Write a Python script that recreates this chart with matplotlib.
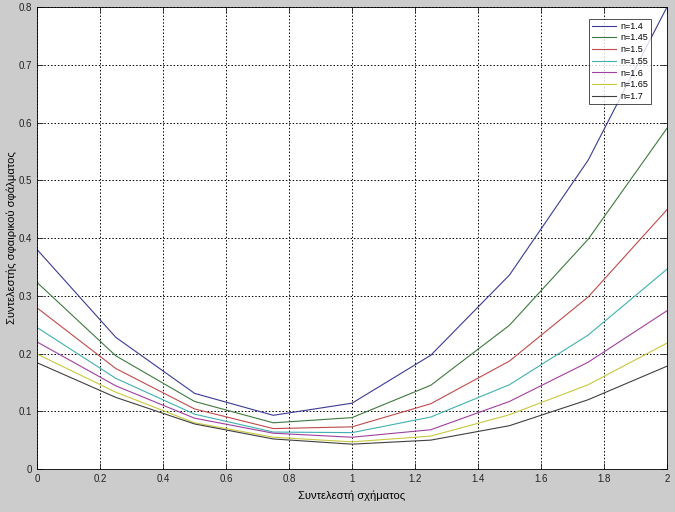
import numpy as np
import matplotlib
matplotlib.use("Agg")
import matplotlib.pyplot as plt

# shape coefficient (x) values
x = [0, 0.25, 0.5, 0.75, 1.0, 1.25, 1.5, 1.75, 2.0]

# spherical aberration coefficient for each refractive index
n_labels = ['n=1.4', 'n=1.45', 'n=1.5', 'n=1.55', 'n=1.6', 'n=1.65', 'n=1.7']
y_14 = [0.380, 0.228, 0.131, 0.093, 0.114, 0.197, 0.336, 0.535, 0.800]
y_145 = [0.323, 0.196, 0.117, 0.080, 0.089, 0.145, 0.249, 0.398, 0.590]
y_15 = [0.279, 0.174, 0.104, 0.070, 0.073, 0.113, 0.187, 0.298, 0.449]
y_155 = [0.245, 0.157, 0.095, 0.064, 0.063, 0.090, 0.146, 0.232, 0.346]
y_16 = [0.220, 0.144, 0.088, 0.062, 0.055, 0.068, 0.117, 0.185, 0.274]
y_165 = [0.199, 0.133, 0.080, 0.055, 0.047, 0.057, 0.094, 0.146, 0.218]
y_17 = [0.184, 0.124, 0.078, 0.052, 0.043, 0.050, 0.075, 0.120, 0.178]
series = [y_14, y_145, y_15, y_155, y_16, y_165, y_17]

# muted versions of the old matlab color order
colors = ['#3a3a95', '#3d7a3d', '#c04a4a', '#40b0b0', '#a040a0', '#c8c840', '#404040']

plt.rcParams['font.family'] = ['Liberation Sans', 'DejaVu Sans']

fig = plt.figure(figsize=(6.75, 5.12), dpi=100, facecolor='#cccccc')
ax = fig.add_axes([0.055, 0.084, 0.933, 0.902])

for ys, c, lab in zip(series, colors, n_labels):
    ax.plot(x, ys, color=c, linewidth=0.8, label=lab)

ax.set_xlim(0, 2)
ax.set_ylim(0, 0.8)
ax.set_xticks(np.arange(0, 2.01, 0.2))
ax.set_xticklabels(['0', '0.2', '0.4', '0.6', '0.8', '1', '1.2', '1.4', '1.6', '1.8', '2'])
ax.set_yticks(np.arange(0, 0.81, 0.1))
ax.set_yticklabels(['0', '0.1', '0.2', '0.3', '0.4', '0.5', '0.6', '0.7', '0.8'])
ax.tick_params(direction='in', labelsize=7, length=4, width=0.6, colors='#222222',
               top=True, right=True)
ax.grid(True, linestyle=(0, (1.5, 2)), color='black', linewidth=0.7)
for s in ax.spines.values():
    s.set_linewidth(0.6)

ax.set_xlabel('Συντελεστή σχήματος', fontsize=8, labelpad=5)
ax.set_ylabel('Συντελεστής σφαιρικού σφάλματος', fontsize=8, labelpad=1)

leg = ax.legend(loc='upper right', fontsize=6.5, handlelength=2.6, frameon=True,
                fancybox=False, edgecolor='black', borderpad=0.35, labelspacing=0.3,
                handletextpad=0.5, bbox_to_anchor=(0.982, 0.985))
leg.get_frame().set_linewidth(0.6)

fig.savefig('out.png', dpi=100, facecolor=fig.get_facecolor())
